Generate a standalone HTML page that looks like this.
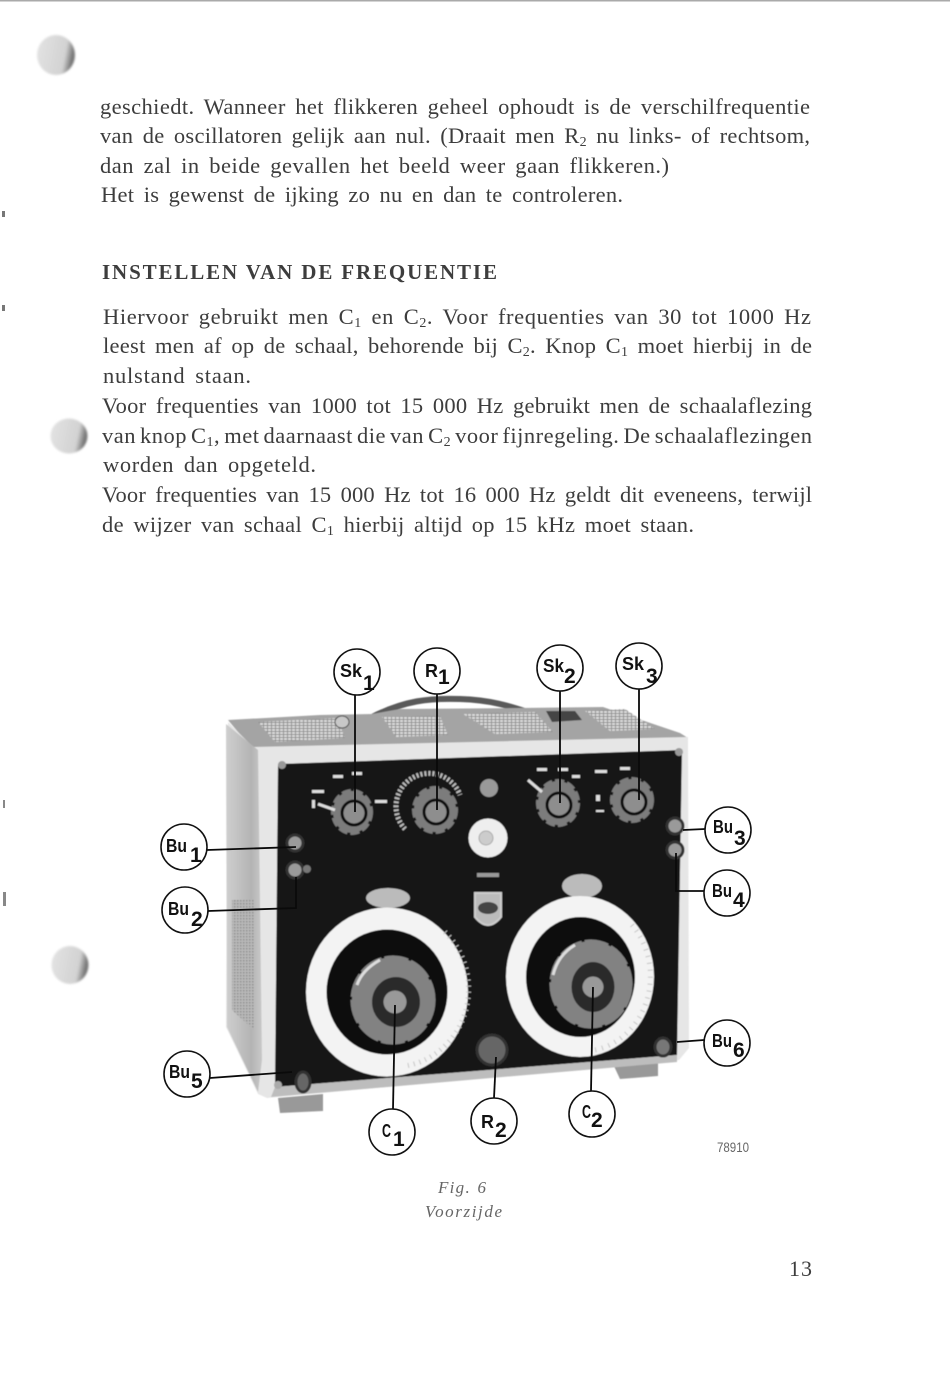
<!DOCTYPE html>
<html><head><meta charset="utf-8"><style>
html,body{margin:0;padding:0;background:#fff;width:950px;height:1381px;overflow:hidden}
svg{display:block}
.t{font-family:"Liberation Serif",serif;font-size:22.5px;fill:#3c3c3c;word-spacing:3.5px}
.l{font-family:"Liberation Sans",sans-serif;font-size:18.5px;font-weight:bold;fill:#111}
.d{font-size:21px}
.s{font-size:14px}
.c{fill:#fff;stroke:#111;stroke-width:1.6}
.ld{stroke:#0a0a0a;stroke-width:1.8;fill:none}
</style></head><body>
<svg width="950" height="1381" viewBox="0 0 950 1381" xmlns="http://www.w3.org/2000/svg">
<defs>
<linearGradient id="hole" x1="0" y1="0" x2="1" y2="0.2"><stop offset="0" stop-color="#e4e4e4"/><stop offset=".8" stop-color="#d2d2d2"/><stop offset="1" stop-color="#777"/></linearGradient>
<linearGradient id="side" x1="0" y1="0" x2="1" y2="0"><stop offset="0" stop-color="#cfcfcf"/><stop offset=".7" stop-color="#b4b4b4"/><stop offset="1" stop-color="#c8c8c8"/></linearGradient>
<pattern id="grille" width="4" height="3" patternUnits="userSpaceOnUse"><rect width="4" height="3" fill="#909090"/><rect width="3" height="2" fill="#dcdcdc"/></pattern>
<pattern id="grille2" width="3" height="3" patternUnits="userSpaceOnUse"><rect width="3" height="3" fill="#b8b8b8"/><rect width="1.5" height="1.5" fill="#8f8f8f"/></pattern>
<filter id="b" x="-5%" y="-5%" width="110%" height="110%"><feGaussianBlur stdDeviation="0.6"/></filter>
<filter id="b2" x="-20%" y="-20%" width="140%" height="140%"><feGaussianBlur stdDeviation="1"/></filter>
<filter id="tb"><feGaussianBlur stdDeviation="0.25"/></filter>
</defs>
<rect x="0" y="0" width="950" height="1.5" fill="#aaa"/>
<ellipse cx="56" cy="55" rx="19" ry="20" fill="url(#hole)" filter="url(#b2)"/>
<ellipse cx="69" cy="436" rx="18.5" ry="17.5" fill="url(#hole)" filter="url(#b2)"/>
<ellipse cx="70" cy="965" rx="18.5" ry="19" fill="url(#hole)" filter="url(#b2)"/>
<rect x="2" y="211" width="3" height="6" fill="#777"/><rect x="2" y="305" width="3" height="6" fill="#777"/><rect x="3" y="800" width="2" height="8" fill="#888"/><rect x="3" y="892" width="3" height="14" fill="#888"/>

<g class="t" filter="url(#tb)">
<text x="100" y="114" textLength="710">geschiedt. Wanneer het flikkeren geheel ophoudt is de verschilfrequentie</text>
<text x="100" y="143" textLength="710">van de oscillatoren gelijk aan nul. (Draait men R<tspan class="s" dy="3">2</tspan><tspan dy="-3"> nu links- of rechtsom,</tspan></text>
<text x="100" y="173" textLength="569">dan zal in beide gevallen het beeld weer gaan flikkeren.)</text>
<text x="101" y="202" textLength="522">Het is gewenst de ijking zo nu en dan te controleren.</text>
<text x="102" y="279" textLength="395" font-weight="bold" style="font-size:21px;word-spacing:0">INSTELLEN VAN DE FREQUENTIE</text>
<text x="103" y="324" textLength="708">Hiervoor gebruikt men C<tspan class="s" dy="3">1</tspan><tspan dy="-3"> en C</tspan><tspan class="s" dy="3">2</tspan><tspan dy="-3">. Voor frequenties van 30 tot 1000 Hz</tspan></text>
<text x="103" y="353" textLength="709">leest men af op de schaal, behorende bij C<tspan class="s" dy="3">2</tspan><tspan dy="-3">. Knop C</tspan><tspan class="s" dy="3">1</tspan><tspan dy="-3"> moet hierbij in de</tspan></text>
<text x="103" y="383" textLength="148">nulstand staan.</text>
<text x="102" y="413" textLength="710">Voor frequenties van 1000 tot 15 000 Hz gebruikt men de schaalaflezing</text>
<text x="102" y="443" textLength="710" style="word-spacing:-2px">van knop C<tspan class="s" dy="3">1</tspan><tspan dy="-3">, met daarnaast die van C</tspan><tspan class="s" dy="3">2</tspan><tspan dy="-3"> voor fijnregeling. De schaalaflezingen</tspan></text>
<text x="103" y="472" textLength="213">worden dan opgeteld.</text>
<text x="102" y="502" textLength="710">Voor frequenties van 15 000 Hz tot 16 000 Hz geldt dit eveneens, terwijl</text>
<text x="102" y="532" textLength="592">de wijzer van schaal C<tspan class="s" dy="3">1</tspan><tspan dy="-3"> hierbij altijd op 15 kHz moet staan.</tspan></text>
<text x="438" y="1193" font-style="italic" style="font-size:17px;fill:#666;word-spacing:1px" textLength="48">Fig. 6</text>
<text x="425" y="1217" font-style="italic" style="font-size:17px;fill:#666;word-spacing:0" textLength="77">Voorzijde</text>
<text x="717" y="1152" style="font-size:14px;fill:#666;font-family:'Liberation Sans',sans-serif;word-spacing:0" textLength="32" lengthAdjust="spacingAndGlyphs">78910</text>
<text x="789" y="1276" style="font-size:22px;word-spacing:0" textLength="23">13</text>
</g>

<!-- device -->
<g filter="url(#b)">
<path d="M370 718 C405 700 430 698 460 699 C495 700 515 708 540 716" fill="none" stroke="#5a5a5a" stroke-width="6"/>
<polygon points="228,720 320,715 372,714 400,709 520,708 603,707 680,733 688,738 253,750" fill="#a4a4a4"/>
<polygon points="258,722 337,718 345,738 275,742" fill="url(#grille)"/>
<polygon points="382,717 440,716 448,735 396,737" fill="url(#grille)"/>
<polygon points="463,714 535,712 553,732 495,734" fill="url(#grille)"/>
<polygon points="585,711 625,709 655,729 610,731" fill="url(#grille)"/>
<ellipse cx="342" cy="722" rx="7" ry="6" fill="#c8c8c8" stroke="#444"/>
<polygon points="546,711 575,711 582,720 552,722" fill="#444"/>
<polygon points="278,1098 323,1094 323,1111 280,1113" fill="#999"/>
<polygon points="613,1064 658,1060 658,1076 620,1079" fill="#999"/>
<!-- front frame -->
<polygon points="228,722 253,747 688,737 689,1048 679,1060 267,1098 258,1094 226,1027" fill="#e6e6e6"/>
<!-- side -->
<polygon points="226,724 258,750 262,1060 258,1092 227,1027" fill="url(#side)"/>
<polygon points="232,900 254,900 254,1030 232,1010" fill="url(#grille2)"/>
<polygon points="278,764 682,750 677,1055 275,1087" fill="#151515"/>
<polygon points="275,1087 677,1055 677,1062 271,1097" fill="#bdbdbd"/>
<circle cx="282" cy="765" r="4" fill="#999"/><circle cx="679" cy="752" r="4" fill="#999"/>
<circle cx="278" cy="1085" r="4" fill="#aaa"/>

<!-- small knobs -->
<g stroke="#7c7c7c" stroke-width="4" stroke-dasharray="9 3" fill="#7c7c7c">
<ellipse cx="352" cy="812" rx="19" ry="21"/><ellipse cx="435" cy="810" rx="21" ry="22"/><ellipse cx="558" cy="803" rx="20" ry="22"/><ellipse cx="632" cy="800" rx="20" ry="21"/>
</g>
<g fill="#8e8e8e" stroke="#111" stroke-width="3">
<circle cx="354" cy="813" r="12"/><circle cx="436" cy="812" r="12"/><circle cx="559" cy="805" r="12"/><circle cx="634" cy="802" r="12"/>
</g>
<path d="M405 829 A33 33 0 1 1 460 795" fill="none" stroke="#bbb" stroke-width="5" stroke-dasharray="2 2"/>
<g fill="#ddd">
<rect x="312" y="790" width="12" height="3"/><rect x="333" y="775" width="10" height="3"/><rect x="352" y="772" width="10" height="3"/><rect x="375" y="800" width="12" height="3"/><rect x="312" y="800" width="3" height="8"/>
<rect x="537" y="768" width="10" height="3"/><rect x="558" y="768" width="10" height="3"/><rect x="572" y="775" width="8" height="3"/><rect x="595" y="770" width="12" height="3"/><rect x="620" y="767" width="10" height="3"/><rect x="596" y="795" width="4" height="6"/><rect x="596" y="810" width="8" height="2"/>
</g>
<path d="M528 780 L542 792" stroke="#ddd" stroke-width="3"/>
<path d="M318 804 L335 810" stroke="#ddd" stroke-width="3"/>
<circle cx="489" cy="788" r="9" fill="#999"/>
<circle cx="488" cy="838" r="19.5" fill="#eee"/><circle cx="486" cy="838" r="7" fill="#ccc" stroke="#aaa"/>
<rect x="477" y="873" width="22" height="4" fill="#999"/>
<path d="M475 893 h26 v24 q-13 16 -26 0z" fill="#bbb" stroke="#ccc" stroke-width="2"/><ellipse cx="488" cy="908" rx="10" ry="6" fill="#444"/>

<!-- posts -->
<g fill="#9a9a9a" stroke="#333" stroke-width="3">
<circle cx="295" cy="843" r="8"/><circle cx="295" cy="870" r="8"/><circle cx="675" cy="826" r="8"/><circle cx="675" cy="850" r="8"/><ellipse cx="303" cy="1082" rx="7" ry="10" fill="#666"/><ellipse cx="663" cy="1047" rx="8" ry="9" fill="#777"/>
<circle cx="492" cy="1050" r="15" fill="#666"/>
</g>
<circle cx="307" cy="869" r="4" fill="#777"/>

<!-- dial tops -->
<ellipse cx="388" cy="898" rx="22" ry="10" fill="#bbb"/><ellipse cx="582" cy="886" rx="20" ry="12" fill="#bbb"/>
<!-- left dial -->
<ellipse cx="387" cy="992" rx="81" ry="84.5" fill="#f3f3f3"/>
<path d="M445 932 A75 78 0 0 1 405 1066" fill="none" stroke="#c4c4c4" stroke-width="5" stroke-dasharray="1 5"/>
<ellipse cx="387" cy="992" rx="60.5" ry="62.5" fill="#111"/>
<ellipse cx="393" cy="1000" rx="41" ry="43" fill="#828282" stroke="#828282" stroke-width="3" stroke-dasharray="24 3"/>
<ellipse cx="396" cy="1002" rx="24" ry="25" fill="#2c2c2c"/><circle cx="395" cy="1002" r="11.5" fill="#999"/>
<path d="M357 985 Q362 970 380 960" stroke="#ddd" stroke-width="3" fill="none"/>
<!-- right dial -->
<ellipse cx="580" cy="976.5" rx="74" ry="80.5" fill="#f3f3f3"/>
<path d="M632 925 A68 75 0 0 1 595 1050" fill="none" stroke="#c4c4c4" stroke-width="5" stroke-dasharray="1 6"/>
<ellipse cx="580.5" cy="977" rx="54.5" ry="60" fill="#111"/>
<ellipse cx="591" cy="984" rx="40" ry="43" fill="#828282" stroke="#828282" stroke-width="3" stroke-dasharray="24 3"/>
<ellipse cx="593" cy="987" rx="21.5" ry="25" fill="#2c2c2c"/><circle cx="593" cy="987" r="10.5" fill="#999"/>
<path d="M553 975 Q558 955 575 945" stroke="#ddd" stroke-width="3" fill="none"/>
</g>

<!-- leaders -->
<g class="ld">
<path d="M355 695V812"/><path d="M437 694V810"/><path d="M560 691V803"/><path d="M639 689V800"/>
<path d="M207 850L296 847"/><path d="M208 911L296 908V877"/>
<path d="M683 830L705 829"/><path d="M676 853V891H704"/>
<path d="M210 1078L292 1072"/><path d="M677 1042L704 1040"/>
<path d="M395 1005L393 1109"/><path d="M496 1057L494 1098"/><path d="M593 987L591 1091"/>
</g>
<!-- callouts -->
<g>
<circle class="c" cx="357" cy="672" r="23"/><circle class="c" cx="437" cy="671" r="23"/><circle class="c" cx="560" cy="668" r="23"/><circle class="c" cx="639" cy="666" r="23"/>
<circle class="c" cx="184" cy="847" r="23"/><circle class="c" cx="185" cy="910" r="23"/><circle class="c" cx="728" cy="830" r="23"/><circle class="c" cx="727" cy="893" r="23"/>
<circle class="c" cx="187" cy="1074" r="23"/><circle class="c" cx="727" cy="1043" r="23"/>
<circle class="c" cx="392" cy="1132" r="23"/><circle class="c" cx="494" cy="1121" r="23"/><circle class="c" cx="592" cy="1114" r="23"/>
</g>
<g class="l">
<text x="340" y="677" textLength="22" lengthAdjust="spacingAndGlyphs">Sk</text><text class="d" x="363" y="690">1</text>
<text x="425" y="677" textLength="13" lengthAdjust="spacingAndGlyphs">R</text><text class="d" x="438" y="684">1</text>
<text x="543" y="672" textLength="21" lengthAdjust="spacingAndGlyphs">Sk</text><text class="d" x="564" y="683">2</text>
<text x="622" y="670" textLength="22" lengthAdjust="spacingAndGlyphs">Sk</text><text class="d" x="646" y="683">3</text>
<text x="166" y="852" textLength="21" lengthAdjust="spacingAndGlyphs">Bu</text><text class="d" x="190" y="862">1</text>
<text x="168" y="915" textLength="21" lengthAdjust="spacingAndGlyphs">Bu</text><text class="d" x="191" y="926">2</text>
<text x="169" y="1078" textLength="21" lengthAdjust="spacingAndGlyphs">Bu</text><text class="d" x="191" y="1088">5</text>
<text x="713" y="833" textLength="20" lengthAdjust="spacingAndGlyphs">Bu</text><text class="d" x="734" y="845">3</text>
<text x="712" y="897" textLength="20" lengthAdjust="spacingAndGlyphs">Bu</text><text class="d" x="733" y="907">4</text>
<text x="712" y="1047" textLength="20" lengthAdjust="spacingAndGlyphs">Bu</text><text class="d" x="733" y="1057">6</text>
<text x="382" y="1137" textLength="9" lengthAdjust="spacingAndGlyphs">C</text><text class="d" x="393" y="1146">1</text>
<text x="481" y="1128" textLength="13" lengthAdjust="spacingAndGlyphs">R</text><text class="d" x="495" y="1137">2</text>
<text x="582" y="1118" textLength="9" lengthAdjust="spacingAndGlyphs">C</text><text class="d" x="591" y="1127">2</text>
</g>
</svg>
</body></html>
